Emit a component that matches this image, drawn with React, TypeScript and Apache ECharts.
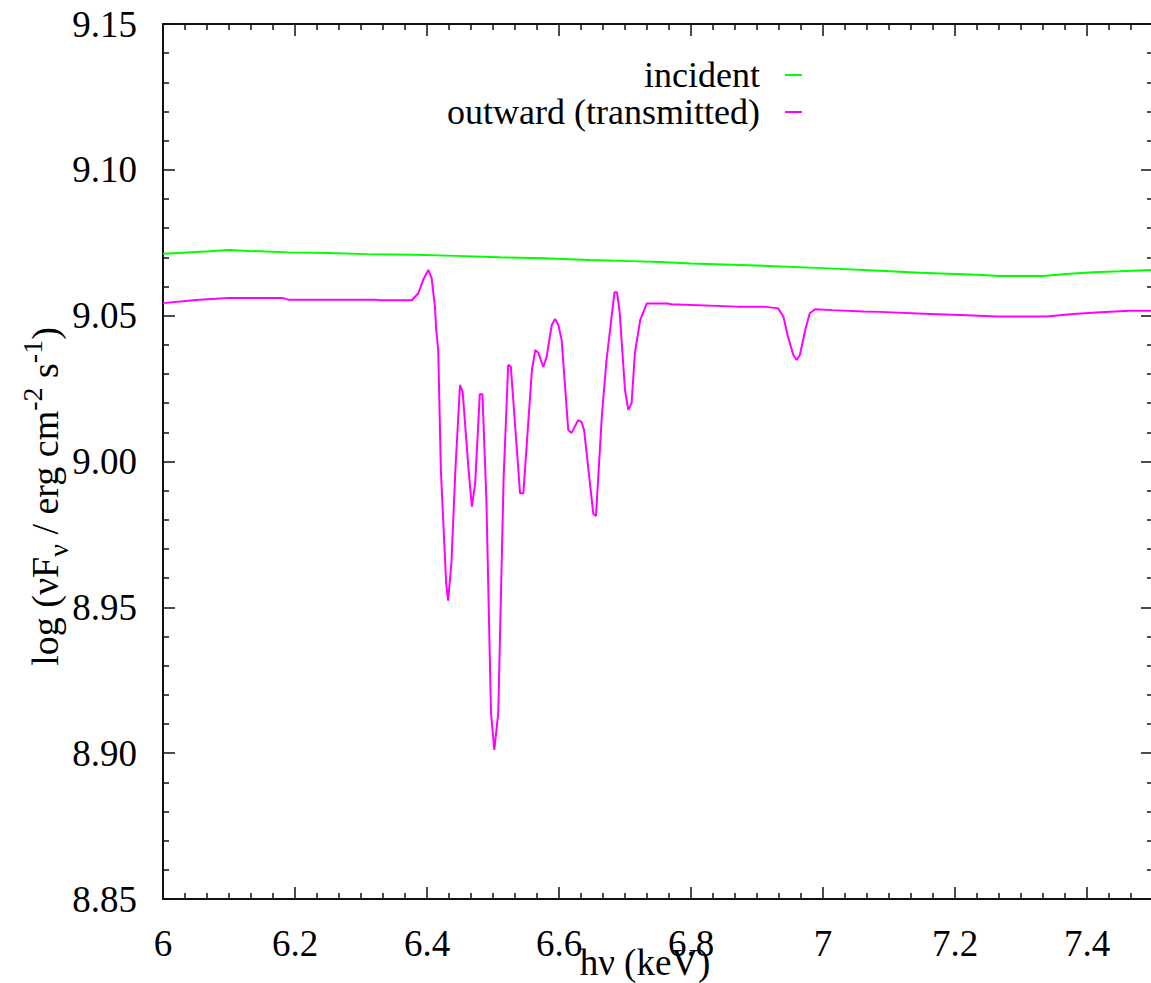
import React, { useEffect, useRef } from "react";
import * as echarts from "echarts";

const incidentX = [6.0, 6.03, 6.07, 6.1, 6.13, 6.19, 6.25, 6.31, 6.38, 6.445, 6.51, 6.576, 6.647, 6.708, 6.753, 6.8, 6.9, 7.0, 7.086, 7.147, 7.2, 7.233, 7.268, 7.333, 7.369, 7.409, 7.45, 7.5];
const incidentY = [9.0712, 9.0716, 9.0721, 9.0725, 9.0722, 9.0717, 9.0715, 9.0711, 9.0709, 9.0705, 9.07, 9.0697, 9.0691, 9.0687, 9.0684, 9.0679, 9.0672, 9.0663, 9.0654, 9.0647, 9.0643, 9.064, 9.0636, 9.0636, 9.0643, 9.0649, 9.0652, 9.0657];

const outwardX = [
  6.0, 6.05, 6.08, 6.1, 6.18, 6.19, 6.32, 6.33, 6.377, 6.387, 6.394, 6.402, 6.407, 6.412, 6.414, 6.417,
  6.421, 6.429, 6.432, 6.437, 6.443, 6.45, 6.454, 6.463, 6.468, 6.473, 6.48, 6.484, 6.49, 6.497, 6.502,
  6.508, 6.516, 6.523, 6.527, 6.541, 6.546, 6.559, 6.564, 6.569, 6.576, 6.581, 6.589, 6.594, 6.599,
  6.604, 6.614, 6.619, 6.629, 6.634, 6.638, 6.652, 6.656, 6.665, 6.672, 6.68, 6.684, 6.688, 6.692,
  6.7, 6.705, 6.71, 6.715, 6.723, 6.733, 6.764, 6.77, 6.87, 6.91, 6.932, 6.94, 6.947, 6.955, 6.96,
  6.965, 6.973, 6.98, 6.988, 7.014, 7.061, 7.086, 7.162, 7.208, 7.263, 7.339, 7.379, 7.42, 7.465, 7.5,
];
const outwardY = [
  9.0543, 9.0554, 9.0558, 9.0561, 9.0561, 9.0555, 9.0555, 9.0553, 9.0553, 9.0577, 9.0622, 9.0657, 9.0629, 9.0531, 9.0451, 9.0382,
  8.9971, 8.9583, 8.9523, 8.9652, 8.9971, 9.0262, 9.0239, 8.9971, 8.9845, 8.9926, 9.0231, 9.0231, 8.9868, 8.9138, 8.9011,
  8.9138, 8.9937, 9.0331, 9.0325, 8.9891, 8.9891, 9.0314, 9.0382, 9.0372, 9.0325, 9.0355, 9.0468, 9.0489, 9.0468,
  9.0417, 9.0108, 9.0098, 9.0142, 9.0136, 9.0108, 8.982, 8.9813, 9.0159, 9.0348, 9.0502, 9.058, 9.058, 9.0509,
  9.0245, 9.0177, 9.02, 9.0372, 9.0485, 9.0542, 9.0542, 9.0539, 9.0531, 9.0531, 9.0525, 9.0496, 9.0428, 9.0365, 9.0348,
  9.0365, 9.0451, 9.0508, 9.0522, 9.0519, 9.0514, 9.0513, 9.0506, 9.0502, 9.0497, 9.0497, 9.0506, 9.0512, 9.0517, 9.0517,
];

const seriesNames = ["incident", "outward (transmitted)"];
const xTicks = { min: 6, max: 7.5, step: 0.2 };
const yTicks = { min: 8.85, max: 9.15, step: 0.05 };

const FONT = "Liberation Serif, serif";

export default function App() {
  const ref = useRef<HTMLDivElement>(null);
  useEffect(() => {
    if (!ref.current) return;
    const chart = echarts.init(ref.current, undefined, { renderer: "svg" });
    const axisLine = { show: true, lineStyle: { color: "#111", width: 2 } };
    const axisTick = { show: true, inside: true, length: 12, lineStyle: { color: "#111", width: 1.5 } };
    const tok = { fontSize: 37, fontFamily: FONT, color: "#000", lineHeight: 40, verticalAlign: "middle" };
    const outer = { fontFamily: FONT, color: "#000" };
    const richT = { t: tok };
    const baseX = {
      type: "value",
      min: xTicks.min,
      max: xTicks.max,
      interval: xTicks.step,
      axisLine,
      axisTick,
      minorTick: { show: true, splitNumber: 6, length: 6, lineStyle: { color: "#111", width: 1.5 } },
      splitLine: { show: false },
      minorSplitLine: { show: false },
    };
    const baseY = {
      type: "value",
      min: yTicks.min,
      max: yTicks.max,
      interval: yTicks.step,
      axisLine,
      axisTick,
      minorTick: { show: true, splitNumber: 5, length: 6, lineStyle: { color: "#111", width: 1.5 } },
      splitLine: { show: false },
      minorSplitLine: { show: false },
    };
    const legendCommon = {
      right: 344,
      align: "right",
      icon: "rect",
      itemWidth: 17,
      itemHeight: 2,
      formatter: "{t|{name}}",
      textStyle: { ...outer, padding: [0, 20, 0, 0], rich: { t: { ...tok, fontSize: 36 } } },
    };
    chart.setOption({
      animation: false,
      backgroundColor: "#fff",
      grid: { left: 163, right: -2, top: 24, bottom: 84, containLabel: false, outerBoundsMode: "none" },
      legend: [
        { ...legendCommon, data: [seriesNames[0]], top: 52 },
        { ...legendCommon, data: [seriesNames[1]], top: 89 },
      ],
      xAxis: [
        {
          ...baseX,
          position: "bottom",
          name: "{t|hν (keV)}",
          nameLocation: "middle",
          nameGap: 43,
          nameMoveOverlap: false,
          nameTextStyle: { ...outer, padding: [0, 26, 0, 0], rich: richT },
          axisLabel: {
            ...outer,
            margin: 24,
            showMaxLabel: false,
            rich: richT,
            formatter: (v: number) => (v > 7.45 ? "" : `{t|${+v.toFixed(1)}}`),
          },
        },
        {
          ...baseX,
          position: "top",
          axisLabel: { show: false },
        },
      ],
      yAxis: [
        {
          ...baseY,
          position: "left",
          name: "{n|log (νF}{sub|ν}{n| / erg cm}{sup|-2}{n| s}{sup|-1}{n|)}",
          nameLocation: "middle",
          nameGap: 91,
          nameRotate: 90,
          nameMoveOverlap: false,
          nameTextStyle: {
            ...outer,
            padding: [0, 70, 0, 0],
            rich: {
              n: { fontSize: 38, fontFamily: FONT, color: "#000", lineHeight: 54, verticalAlign: "middle" },
              sub: { fontSize: 28, fontFamily: FONT, color: "#000", lineHeight: 34, verticalAlign: "bottom" },
              sup: { fontSize: 28, fontFamily: FONT, color: "#000", lineHeight: 28, verticalAlign: "top" },
            },
          },
          axisLabel: {
            ...outer,
            margin: 26,
            rich: richT,
            formatter: (v: number) => `{t|${v.toFixed(2)}}`,
          },
        },
        {
          ...baseY,
          position: "right",
          axisLabel: { show: false },
        },
      ],
      series: [
        {
          name: seriesNames[0],
          type: "line",
          showSymbol: false,
          data: incidentX.map((x, i) => [x, incidentY[i]]),
          lineStyle: { color: "#00ff00", width: 2 },
          itemStyle: { color: "#00ff00" },
        },
        {
          name: seriesNames[1],
          type: "line",
          showSymbol: false,
          data: outwardX.map((x, i) => [x, outwardY[i]]),
          lineStyle: { color: "#ff00ff", width: 2 },
          itemStyle: { color: "#ff00ff" },
        },
      ],
    });
    return () => chart.dispose();
  }, []);
  return (
    <div
      ref={ref}
      style={{ position: "absolute", left: 0, top: 0, width: 1151, height: 983, background: "#fff" }}
    />
  );
}
